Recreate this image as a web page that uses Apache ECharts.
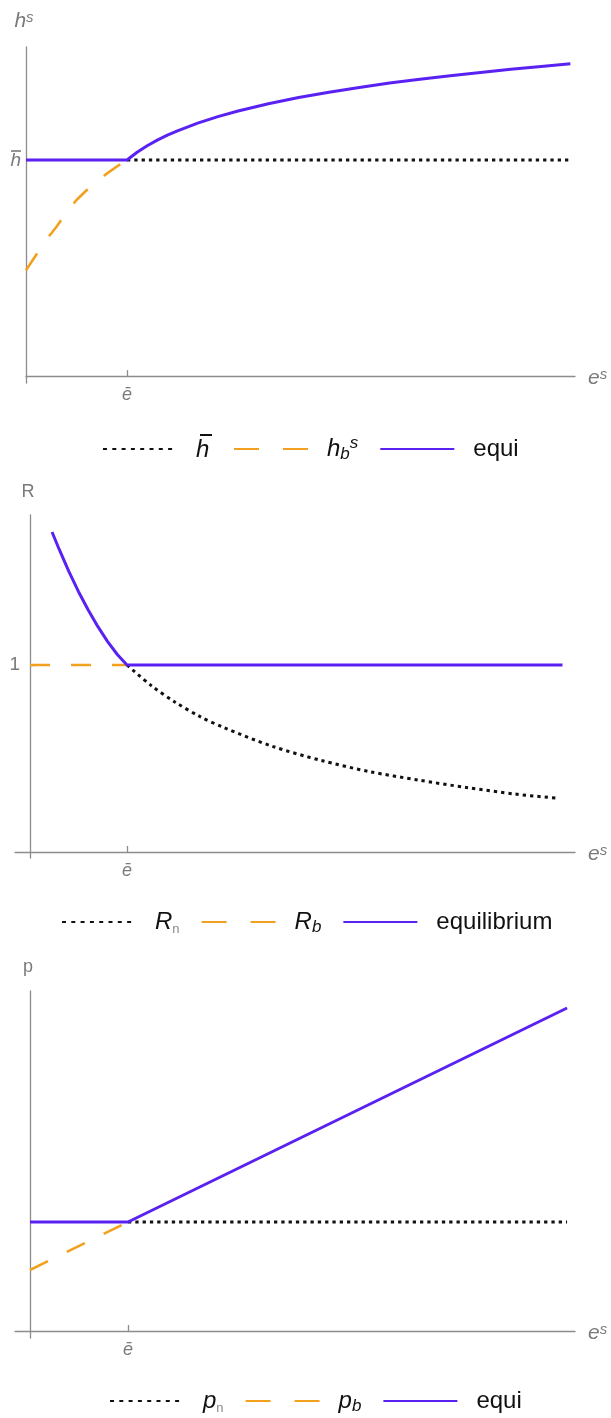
<!DOCTYPE html>
<html>
<head>
<meta charset="utf-8">
<script src="https://cdn.jsdelivr.net/npm/echarts@6/dist/echarts.min.js"></script>
<style>
  html, body { margin: 0; padding: 0; background: #fff; }
  #chart { width: 611px; height: 1418px; }
</style>
</head>
<body>
<div id="chart"></div>
<script>
// ---- Panel 1: h^s against e^s ----
const hBarX = [1, 5.39];
const hBarY = [1, 1];
const hbX = [0, 0.1, 0.2, 0.3, 0.4, 0.5, 0.6, 0.7, 0.8, 0.9, 1.0];
const hbY = [0.49, 0.56, 0.63, 0.69, 0.755, 0.815, 0.86, 0.898, 0.937, 0.97, 1.0];
const hEquiX = [0, 1, 1.1, 1.2, 1.3, 1.4, 1.5, 1.7, 1.9, 2.1, 2.4, 2.7, 3.0, 3.3, 3.6, 3.9, 4.2, 4.5, 4.8, 5.1, 5.39];
const hEquiY = [1, 1, 1.036, 1.066, 1.092, 1.115, 1.135, 1.171, 1.201, 1.227, 1.26, 1.289, 1.314, 1.336, 1.356, 1.374, 1.39, 1.405, 1.42, 1.433, 1.445];

// ---- Panel 2: R against e^s ----
const rnX = [1, 1.25, 1.5, 1.75, 2, 2.5, 3, 3.5, 4, 4.5, 5, 5.45];
const rnY = [1, 0.89, 0.8, 0.725, 0.665, 0.565, 0.49, 0.43, 0.385, 0.345, 0.31, 0.287];
const rbX = [0, 1];
const rbY = [1, 1];
const rEquiX = [0.227, 0.3, 0.4, 0.5, 0.6, 0.7, 0.8, 0.9, 1, 5.49];
const rEquiY = [1.711, 1.619, 1.501, 1.392, 1.294, 1.205, 1.125, 1.056, 1, 1];

// ---- Panel 3: p against e^s ----
const pnX = [1, 5.48];
const pnY = [1, 1];
const pbX = [0, 1];
const pbY = [0.56, 1];
const pEquiX = [0, 1, 5.48];
const pEquiY = [1, 1, 2.963];

// tick positions (e-bar on x, reference level on y)
const eBarTicks = [1];
const levelTicks = [1];

const PURPLE = '#5a22f2';
const ORANGE = '#f2a11f';
const DOT = '#111111';
const AXIS = '#8c8c8c';
const LABEL = '#7a7a7a';
const FONT = '"Liberation Sans", Arial, sans-serif';

const pairs = (xs, ys) => xs.map((x, i) => [x, ys[i]]);

const dotted = { color: DOT, width: 3, type: [3.3, 4] };
const dashed = { color: ORANGE, width: 2.6, type: [20, 21] };
const solid = { color: PURPLE, width: 3, type: 'solid' };

const legendRich = {
  t: { fontFamily: FONT, fontSize: 24, color: '#111', lineHeight: 28 },
  i: { fontFamily: FONT, fontSize: 24, fontStyle: 'italic', color: '#111', lineHeight: 28 },
  // bar drawn over the h as a thin filled box
  sp: { width: 4, height: 2, fontSize: 1, lineHeight: 2 },
  bar: { width: 12, height: 2, fontSize: 1, lineHeight: 2, backgroundColor: '#111' },
  sub: { fontFamily: FONT, fontSize: 17, fontStyle: 'italic', color: '#111', lineHeight: 12, verticalAlign: 'bottom' },
  subg: { fontFamily: FONT, fontSize: 13, color: '#8a8a8a', lineHeight: 10, verticalAlign: 'bottom' },
  sup: { fontFamily: FONT, fontSize: 17, fontStyle: 'italic', color: '#111', lineHeight: 12, verticalAlign: 'top' }
};

const legendText = {
  'hbar': '{sp| }{bar| }\n{i|h}',
  'hbs': '{i|h}{sub|b}{sup|s}',
  'equi': '{t|equi}',
  'Rn': '{i|R}{subg|n}',
  'Rb': '{i|R}{sub|b}',
  'equilibrium': '{t|equilibrium}',
  'pn': '{i|p}{subg|n}',
  'pb': '{i|p}{sub|b}'
};

function makeLegend(names, left, top) {
  return {
    left: left, top: top,
    itemWidth: 74, itemHeight: 14, itemGap: 21,
    selectedMode: false,
    itemStyle: { color: 'rgba(0,0,0,0)', borderWidth: 0 },
    data: names.map(n => {
      const item = { name: n };
      if (n === 'hbs' || n === 'Rb' || n === 'pb') item.lineStyle = { type: [25, 24] };
      if (n === 'hbar' || n === 'Rn' || n === 'pn') item.lineStyle = { type: [4, 5.3] };
      return item;
    }),
    formatter: n => legendText[n],
    textStyle: { rich: legendRich, padding: [0, 0, 0, 14] }
  };
}

const nameRich = {
  a: { fontFamily: FONT, fontSize: 21, fontStyle: 'italic', color: LABEL },
  n: { fontFamily: FONT, fontSize: 18, color: LABEL },
  s: { fontFamily: FONT, fontSize: 15, fontStyle: 'italic', color: LABEL, verticalAlign: 'top', lineHeight: 12 }
};

const tickRich = {
  e: { fontFamily: FONT, fontSize: 18, fontStyle: 'italic', color: LABEL },
  h: { fontFamily: FONT, fontSize: 19, fontStyle: 'italic', color: LABEL, lineHeight: 18 },
  bar: { width: 10, height: 1.6, fontSize: 1, lineHeight: 2, backgroundColor: LABEL },
  one: { fontFamily: FONT, fontSize: 19, color: LABEL }
};

function xAxisFor(gi, min, max, margin) {
  return {
    type: 'value', gridIndex: gi, min: min, max: max,
    axisLine: { onZero: true, lineStyle: { color: AXIS, width: 1.3 } },
    axisTick: { show: true, inside: true, length: 6, customValues: eBarTicks, lineStyle: { color: AXIS, width: 1.3 } },
    axisLabel: {
      customValues: eBarTicks, formatter: () => '{e|\u0113}',
      rich: tickRich, margin: margin
    },
    splitLine: { show: false },
    name: '{a|e}{s|s}', nameLocation: 'end', nameGap: 13,
    nameTextStyle: { rich: nameRich, align: 'left', verticalAlign: 'middle', padding: [4, 0, 0, 0] }
  };
}

function yAxisFor(gi, min, max, name, label, margin, nameGap) {
  return {
    type: 'value', gridIndex: gi, min: min, max: max,
    axisLine: { onZero: true, lineStyle: { color: AXIS, width: 1.3 } },
    axisTick: { show: label !== null, inside: true, length: 5, customValues: levelTicks, lineStyle: { color: AXIS, width: 1.3 } },
    axisLabel: {
      show: label !== null, customValues: levelTicks, formatter: () => label,
      rich: tickRich, margin: margin
    },
    splitLine: { show: false },
    name: name, nameLocation: 'end', nameGap: nameGap,
    nameTextStyle: { rich: nameRich, align: 'center', verticalAlign: 'middle', padding: [0, 4, 0, 0] }
  };
}

function line(name, gi, xs, ys, style, z, smooth) {
  return {
    type: 'line', name: name, xAxisIndex: gi, yAxisIndex: gi,
    data: pairs(xs, ys), showSymbol: false, symbol: 'none',
    smooth: smooth || false,
    lineStyle: style, z: z, silent: true
  };
}

const chart = echarts.init(document.getElementById('chart'), null, { renderer: 'canvas' });
chart.setOption({
  animation: false,
  backgroundColor: '#ffffff',
  textStyle: { fontFamily: FONT },
  grid: [
    { left: 26, top: 47, width: 549, height: 336, outerBoundsMode: 'none', containLabel: false },
    { left: 15, top: 515, width: 560, height: 343, outerBoundsMode: 'none', containLabel: false },
    { left: 15, top: 991, width: 560, height: 347, outerBoundsMode: 'none', containLabel: false }
  ],
  xAxis: [
    xAxisFor(0, 0, 5.436, 3),
    xAxisFor(1, -0.155, 5.619, 4),
    xAxisFor(2, -0.153, 5.561, 3)
  ],
  yAxis: [
    yAxisFor(0, -0.032, 1.523, '{a|h}{s|s}', '{bar| }\n{h|h}', 5, 26),
    yAxisFor(1, -0.032, 1.802, '{n|R}', '{one|1}', -5, 23),
    yAxisFor(2, -0.064, 3.119, '{n|p}', null, 5, 24)
  ],
  legend: [
    makeLegend(['hbar', 'hbs', 'equi'], 97, 429),
    makeLegend(['Rn', 'Rb', 'equilibrium'], 56, 905),
    makeLegend(['pn', 'pb', 'equi'], 104, 1384)
  ],
  series: [
    line('hbar', 0, hBarX, hBarY, dotted, 2),
    line('hbs', 0, hbX, hbY, dashed, 2),
    line('equi', 0, hEquiX, hEquiY, solid, 3),
    line('Rn', 1, rnX, rnY, dotted, 2, 0.3),
    line('Rb', 1, rbX, rbY, dashed, 2),
    line('equilibrium', 1, rEquiX, rEquiY, solid, 3),
    line('pn', 2, pnX, pnY, dotted, 2),
    line('pb', 2, pbX, pbY, dashed, 2),
    line('equi', 2, pEquiX, pEquiY, solid, 3)
  ]
});
</script>
</body>
</html>
